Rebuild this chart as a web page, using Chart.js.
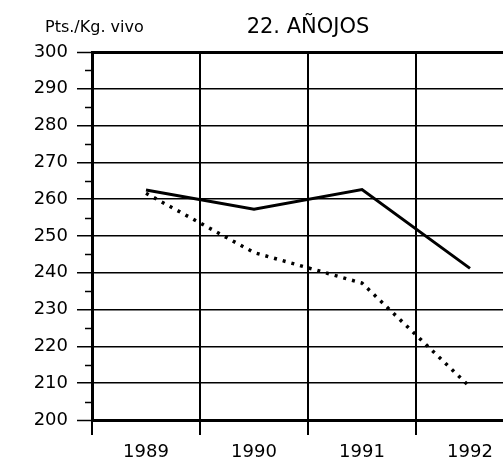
<!DOCTYPE html>
<html>
<head>
<meta charset="utf-8">
<script src="https://cdn.jsdelivr.net/npm/chart.js@4"></script>
<style>
  html, body { margin: 0; padding: 0; background: #fff; overflow: hidden; }
  #wrap { width: 530px; height: 464px; }
</style>
</head>
<body>
<div id="wrap"><canvas id="chart" width="530" height="464"></canvas></div>
<script>
// ---------- data ----------
const years = ["1989", "1990", "1991", "1992"];
const seriesSolid = [262.5, 257.3, 262.6, 241.2];
const seriesDotted = [261.6, 245.5, 237.2, 209];
const yTicks = [200, 210, 220, 230, 240, 250, 260, 270, 280, 290, 300];
const minorTicks = [205, 215, 225, 235, 245, 255, 265, 275, 285, 295];
const chartTitle = "22. AÑOJOS";
const unitLabel = "Pts./Kg. vivo";

const FONT = "'DejaVu Sans', sans-serif";
const INK = "#000";

// ---------- extra text + minor ticks ----------
const decor = {
  id: "decor",
  afterDraw(chart) {
    const { ctx, chartArea, scales } = chart;
    ctx.save();
    ctx.fillStyle = INK;
    ctx.textBaseline = "alphabetic";
    ctx.font = `21px ${FONT}`;
    ctx.textAlign = "center";
    ctx.fillText(chartTitle, (chartArea.left + chartArea.right) / 2, 33);
    ctx.font = `16px ${FONT}`;
    ctx.textAlign = "left";
    ctx.fillText(unitLabel, 45, 32);

    ctx.strokeStyle = INK;
    ctx.lineWidth = 1.5;
    for (const v of minorTicks) {
      const y = Math.round(scales.y.getPixelForValue(v)) + 0.5;
      ctx.beginPath();
      ctx.moveTo(chartArea.left - 7, y);
      ctx.lineTo(chartArea.left, y);
      ctx.stroke();
    }
    ctx.restore();
  },
};

new Chart(document.getElementById("chart"), {
  type: "line",
  data: {
    labels: years,
    datasets: [
      { data: seriesSolid, borderColor: INK, borderWidth: 3, pointRadius: 0, tension: 0 },
      { data: seriesDotted, borderColor: INK, borderWidth: 3.5, borderDash: [3, 6],
        borderCapStyle: "butt", pointRadius: 0, tension: 0 },
    ],
  },
  options: {
    responsive: false,
    animation: false,
    layout: { padding: { top: 52, right: 6, left: 0, bottom: 0 } },
    plugins: { legend: { display: false }, tooltip: { enabled: false } },
    scales: {
      x: {
        offset: true,
        grid: { offset: true, color: INK, lineWidth: 2, tickLength: 15, tickColor: INK },
        border: { color: INK, width: 3 },
        ticks: { color: INK, font: { family: FONT, size: 18 }, padding: 7, maxRotation: 0 },
        afterFit: (s) => { s.height = 44; },
      },
      y: {
        min: yTicks[0],
        max: yTicks[yTicks.length - 1],
        afterBuildTicks: (s) => { s.ticks = yTicks.map((v) => ({ value: v })); },
        grid: {
          color: INK,
          lineWidth: (c) => (c.tick && (c.tick.value === 300 || c.tick.value === 200) ? 3 : 1.5),
          tickLength: 15,
          tickColor: INK,
          tickWidth: 1.5,
        },
        border: { color: INK, width: 3 },
        ticks: { color: INK, font: { family: FONT, size: 18 }, padding: 9 },
        afterFit: (s) => { s.width = 92; },
      },
    },
  },
  plugins: [decor],
});
</script>
</body>
</html>
